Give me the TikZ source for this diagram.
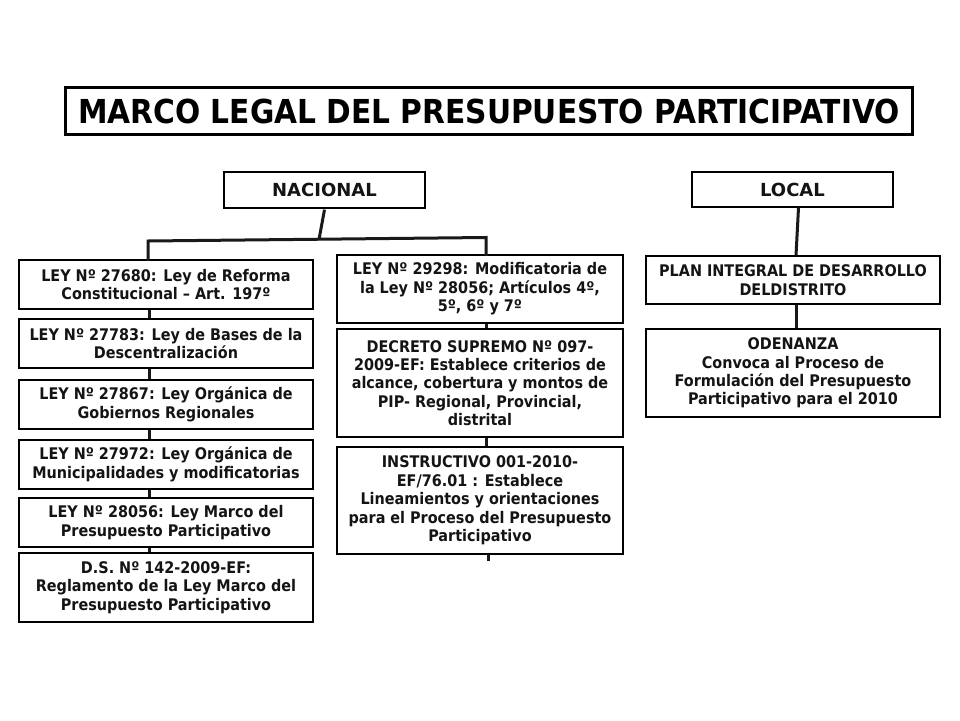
\documentclass[tikz,border=0pt]{standalone}
\usepackage{fontspec}
\setmainfont{DejaVu Sans}
\newfontfamily\condfont[Ligatures=TeX]{DejaVu Sans Condensed}
\usetikzlibrary{calc}
\begin{document}
\begin{tikzpicture}[x=1pt,y=-1pt,
  box/.style={draw=black,line width=1.3pt,fill=white,align=center,inner sep=0pt,
    font=\condfont\fontsize{16}{18.4}\selectfont\bfseries,text=black!92},
  head/.style={box,font=\fontsize{18}{20}\selectfont\bfseries},
  conn/.style={line width=3pt,black!90}]
\useasboundingbox (0,0) rectangle (960,720);
\fill[white] (0,0) rectangle (960,720);
% title
\node[draw=black,line width=3.5pt,minimum width=847pt,minimum height=47pt,inner sep=0pt,
  font=\condfont\fontsize{33}{36}\selectfont\bfseries] (title) at (489,111) {MARCO LEGAL DEL PRESUPUESTO PARTICIPATIVO};
% headers
\node[head,minimum width=201pt,minimum height=36pt] (nac) at (324.5,190) {NACIONAL};
\node[head,minimum width=201pt,minimum height=35pt] (loc) at (792.5,189.5) {LOCAL};
% left column
\node[box,minimum width=294pt,minimum height=49pt] (L1) at (166,284.5) {LEY Nº 27680: Ley de Reforma\\Constitucional – Art. 197º};
\node[box,minimum width=294pt,minimum height=49pt] (L2) at (166,343.5) {LEY Nº 27783: Ley de Bases de la\\Descentralización};
\node[box,minimum width=294pt,minimum height=49pt] (L3) at (166,404.5) {LEY Nº 27867: Ley Orgánica de\\Gobiernos Regionales};
\node[box,minimum width=294pt,minimum height=49pt] (L4) at (166,464.5) {LEY Nº 27972: Ley Orgánica de\\Municipalidades y modificatorias};
\node[box,minimum width=294pt,minimum height=49pt] (L5) at (166,522.5) {LEY Nº 28056: Ley Marco del\\Presupuesto Participativo};
\node[box,minimum width=294pt,minimum height=69pt] (L6) at (166,587.5) {D.S. Nº 142-2009-EF:\\Reglamento de la Ley Marco del\\Presupuesto Participativo};
% middle column
\node[box,minimum width=286pt,minimum height=68pt] (M1) at (480,289) {LEY Nº 29298: Modificatoria de\\la Ley Nº 28056; Artículos 4º,\\5º, 6º y 7º};
\node[box,minimum width=286pt,minimum height=108pt] (M2) at (480,383) {DECRETO SUPREMO Nº 097-\\2009-EF: Establece criterios de\\alcance, cobertura y montos de\\PIP- Regional, Provincial,\\distrital};
\node[box,minimum width=286pt,minimum height=107pt] (M3) at (480,500.5) {INSTRUCTIVO 001-2010-\\EF/76.01 : Establece\\Lineamientos y orientaciones\\para el Proceso del Presupuesto\\Participativo};
% right column
\node[box,minimum width=294pt,minimum height=48pt] (R1) at (793,280) {PLAN INTEGRAL DE DESARROLLO\\DELDISTRITO};
\node[box,minimum width=294pt,minimum height=88pt] (R2) at (793,373) {ODENANZA\\Convoca al Proceso de\\Formulación del Presupuesto\\Participativo para el 2010};
% connector coordinates
\coordinate (colL) at (149,0);
\coordinate (colM) at (486,0);
\coordinate (colR) at (796,0);
\coordinate (jn) at (319,239.5);
\coordinate (bl) at (148,241);
\coordinate (br) at (486,237.5);
\coordinate (mend) at (488,561);
% national tree
\draw[conn] ($(nac.south)+(0,1)$) -- (jn);
\draw[conn,line cap=rect] (L1.north -| bl) -- (bl) -- (br) -- (M1.north -| br);
\foreach \a/\b in {L1/L2,L2/L3,L3/L4,L4/L5,L5/L6}
  \draw[conn] (\a.south -| colL) -- (\b.north -| colL);
\foreach \a/\b in {M1/M2,M2/M3}
  \draw[conn] (\a.south -| colM) -- (\b.north -| colM);
\draw[conn] (M3.south -| mend) -- (mend);
% local tree
\draw[conn] ($(loc.south)+(6,0)$) -- (R1.north -| colR);
\draw[conn] (R1.south -| colR) -- (R2.north -| colR);
\end{tikzpicture}
\end{document}
